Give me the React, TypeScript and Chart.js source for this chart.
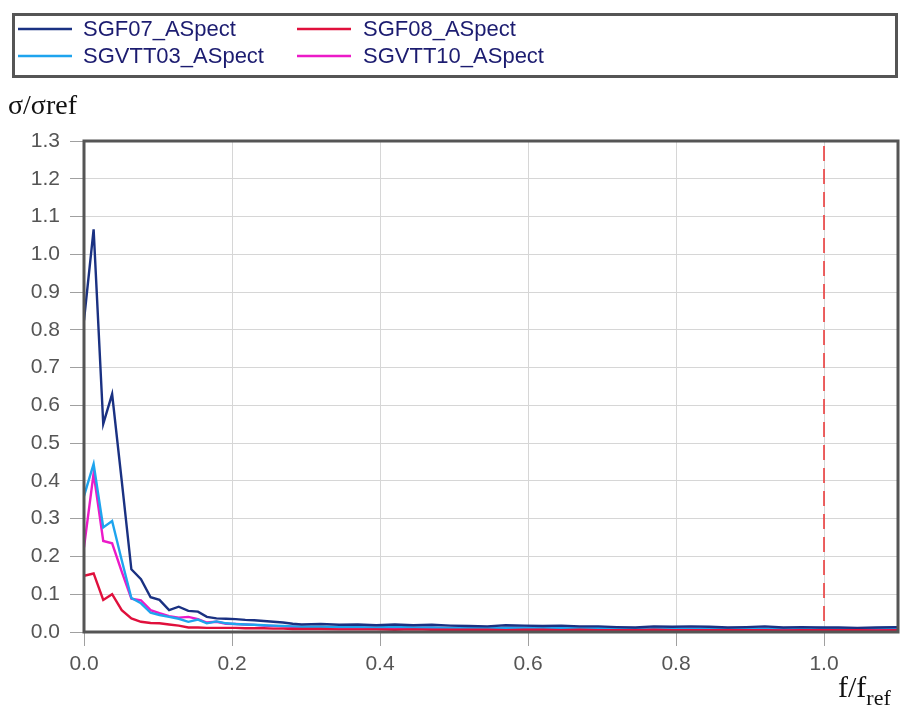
import React, { useEffect, useRef } from "react";
import { Chart, registerables } from "chart.js";
Chart.register(...registerables);

// f/fref sample positions
const freq = [
  0, 0.013, 0.026, 0.038, 0.051, 0.064, 0.077, 0.09, 0.102, 0.115, 0.128, 0.141,
  0.154, 0.166, 0.179, 0.192, 0.205, 0.218, 0.23, 0.243, 0.256, 0.269, 0.282, 0.294,
  0.32, 0.345, 0.37, 0.395, 0.42, 0.445, 0.47, 0.495, 0.52, 0.545, 0.57, 0.595,
  0.62, 0.645, 0.67, 0.695, 0.72, 0.745, 0.77, 0.795, 0.82, 0.845, 0.87, 0.895,
  0.92, 0.945, 0.97, 0.995, 1.02, 1.045, 1.07, 1.1,
];

const sgf07 = [
  0.825, 1.066, 0.551, 0.63, 0.4, 0.166, 0.14, 0.092, 0.085, 0.058, 0.067, 0.056,
  0.054, 0.04, 0.036, 0.035, 0.034, 0.032, 0.031, 0.029, 0.027, 0.025, 0.022, 0.02,
  0.021, 0.019, 0.02, 0.018, 0.02, 0.018, 0.019, 0.017, 0.016, 0.015, 0.018, 0.017,
  0.016, 0.017, 0.015, 0.015, 0.013, 0.012, 0.015, 0.014, 0.015, 0.014, 0.012, 0.013,
  0.015, 0.012, 0.013, 0.012, 0.012, 0.011, 0.012, 0.013,
];

const sgf08 = [
  0.149, 0.155, 0.085, 0.1, 0.058, 0.036, 0.027, 0.024, 0.023, 0.02, 0.017, 0.012,
  0.012, 0.011, 0.011, 0.011, 0.011, 0.01, 0.01, 0.01, 0.009, 0.009, 0.008, 0.008,
  0.008, 0.007, 0.007, 0.007, 0.006, 0.007, 0.006, 0.006, 0.006, 0.006, 0.005, 0.006,
  0.006, 0.005, 0.006, 0.005, 0.005, 0.005, 0.006, 0.005, 0.005, 0.005, 0.005, 0.005,
  0.005, 0.004, 0.005, 0.005, 0.005, 0.005, 0.004, 0.005,
];

const sgvtt03 = [
  0.36, 0.445, 0.277, 0.294, 0.19, 0.09, 0.076, 0.051, 0.045, 0.04, 0.035, 0.027,
  0.033, 0.023, 0.028, 0.023, 0.021, 0.02, 0.019, 0.018, 0.017, 0.016, 0.015, 0.014,
  0.014, 0.013, 0.013, 0.012, 0.014, 0.012, 0.012, 0.011, 0.012, 0.01, 0.011, 0.012,
  0.01, 0.011, 0.01, 0.011, 0.01, 0.009, 0.01, 0.01, 0.009, 0.01, 0.009, 0.01,
  0.009, 0.01, 0.009, 0.011, 0.009, 0.009, 0.01, 0.012,
];

const sgvtt10 = [
  0.224, 0.42, 0.241, 0.235, 0.16, 0.088, 0.084, 0.058, 0.05, 0.042, 0.038, 0.04,
  0.034, 0.025, 0.027, 0.022, 0.021, 0.02, 0.019, 0.017, 0.016, 0.015, 0.014, 0.013,
  0.013, 0.012, 0.012, 0.011, 0.012, 0.011, 0.011, 0.01, 0.011, 0.01, 0.01, 0.011,
  0.012, 0.01, 0.01, 0.009, 0.01, 0.009, 0.009, 0.009, 0.009, 0.009, 0.01, 0.009,
  0.009, 0.008, 0.009, 0.008, 0.008, 0.008, 0.009, 0.009,
];

const seriesNames = ["SGF07_ASpect", "SGF08_ASpect", "SGVTT03_ASpect", "SGVTT10_ASpect"];
const seriesValues = [sgf07, sgf08, sgvtt03, sgvtt10];
const seriesColors = ["#1a3182", "#e0103c", "#1ea4ee", "#ec1ac8"];
const seriesOrder = [0, 1, 2, 3];

const refLineX = [1.0, 1.0];
const refLineY = [1.3, 0];

const xTickValues = [0, 0.2, 0.4, 0.6, 0.8, 1.0];
const yTickValues = [0, 0.1, 0.2, 0.3, 0.4, 0.5, 0.6, 0.7, 0.8, 0.9, 1.0, 1.1, 1.2, 1.3];

const SANS = '"Liberation Sans", Arial, sans-serif';
const SERIF = '"Liberation Serif", "Times New Roman", serif';

const decorPlugin = {
  id: "decor",
  afterDraw(chart: any) {
    const ctx = chart.ctx as CanvasRenderingContext2D;
    const a = chart.chartArea;
    ctx.save();
    // plot frame
    ctx.strokeStyle = "#555555";
    ctx.lineWidth = 3;
    ctx.strokeRect(a.left, a.top, a.right - a.left, a.bottom - a.top);
    // legend box
    ctx.strokeRect(13.5, 14.5, 883, 62);
    // legend entries (2 columns)
    const cols = [
      { lx: 18, tx: 83 },
      { lx: 297, tx: 363 },
    ];
    const rows = [29, 56];
    ctx.font = `22px ${SANS}`;
    ctx.textBaseline = "middle";
    ctx.textAlign = "left";
    seriesNames.forEach((name, i) => {
      const c = cols[i % 2];
      const r = rows[Math.floor(i / 2)];
      ctx.strokeStyle = seriesColors[i];
      ctx.lineWidth = 2.5;
      ctx.beginPath();
      ctx.moveTo(c.lx, r);
      ctx.lineTo(c.lx + 54, r);
      ctx.stroke();
      ctx.fillStyle = "#1c1c70";
      ctx.fillText(name, c.tx, r + 1);
    });
    // y-axis title
    ctx.fillStyle = "#111111";
    ctx.textBaseline = "alphabetic";
    ctx.font = `28px ${SERIF}`;
    ctx.fillText("σ/σref", 8, 114);
    // x-axis title
    ctx.font = `30px ${SERIF}`;
    ctx.fillText("f/f", 838, 697);
    const w = ctx.measureText("f/f").width;
    ctx.font = `22px ${SERIF}`;
    ctx.fillText("ref", 838 + w, 705);
    ctx.restore();
  },
};

export default function App() {
  const ref = useRef<HTMLCanvasElement>(null);
  useEffect(() => {
    if (!ref.current) return;
    const datasets: any[] = seriesNames.map((name, i) => ({
      label: name,
      data: freq.map((f, j) => ({ x: f, y: seriesValues[i][j] })),
      borderColor: seriesColors[i],
      borderWidth: 2.4,
      pointRadius: 0,
      tension: 0,
      fill: false,
      order: seriesOrder[i],
    }));
    datasets.push({
      label: "ref",
      data: refLineX.map((x, j) => ({ x, y: refLineY[j] })),
      borderColor: "#ec3c3c",
      borderWidth: 1.6,
      borderDash: [15, 8],
      borderDashOffset: 18,
      pointRadius: 0,
      fill: false,
      order: 10,
    });
    const chart = new Chart(ref.current, {
      type: "line",
      data: { datasets },
      plugins: [decorPlugin],
      options: {
        animation: false,
        responsive: false,
        maintainAspectRatio: false,
        layout: { padding: { top: 141, right: 4, left: 0, bottom: 0 } },
        plugins: { legend: { display: false }, tooltip: { enabled: false }, title: { display: false } },
        scales: {
          x: {
            type: "linear",
            min: 0,
            max: 1.1,
            afterBuildTicks: (s: any) => {
              s.ticks = xTickValues.map((v) => ({ value: v }));
            },
            afterFit: (s: any) => {
              s.height = 74;
            },
            grid: { color: "#d6d6d6", tickColor: "#a0a0a0", tickLength: 14, lineWidth: 1 },
            border: { display: false },
            ticks: {
              color: "#555555",
              font: { family: SANS, size: 21 },
              padding: 6,
              maxRotation: 0,
              autoSkip: false,
              callback: (v: any) => Number(v).toFixed(1),
            },
          },
          y: {
            type: "linear",
            min: 0,
            max: 1.3,
            afterBuildTicks: (s: any) => {
              s.ticks = yTickValues.map((v) => ({ value: v }));
            },
            afterFit: (s: any) => {
              s.width = 84;
            },
            grid: { color: "#d6d6d6", tickColor: "#a0a0a0", tickLength: 14, lineWidth: 1 },
            border: { display: false },
            ticks: {
              color: "#555555",
              font: { family: SANS, size: 21 },
              padding: 10,
              autoSkip: false,
              callback: (v: any) => Number(v).toFixed(1),
            },
          },
        },
      },
    });
    return () => chart.destroy();
  }, []);
  return (
    <div style={{ position: "absolute", left: 0, top: 0, width: 902, height: 706, background: "#fff" }}>
      <canvas ref={ref} width={902} height={706} style={{ display: "block", width: 902, height: 706 }} />
    </div>
  );
}
